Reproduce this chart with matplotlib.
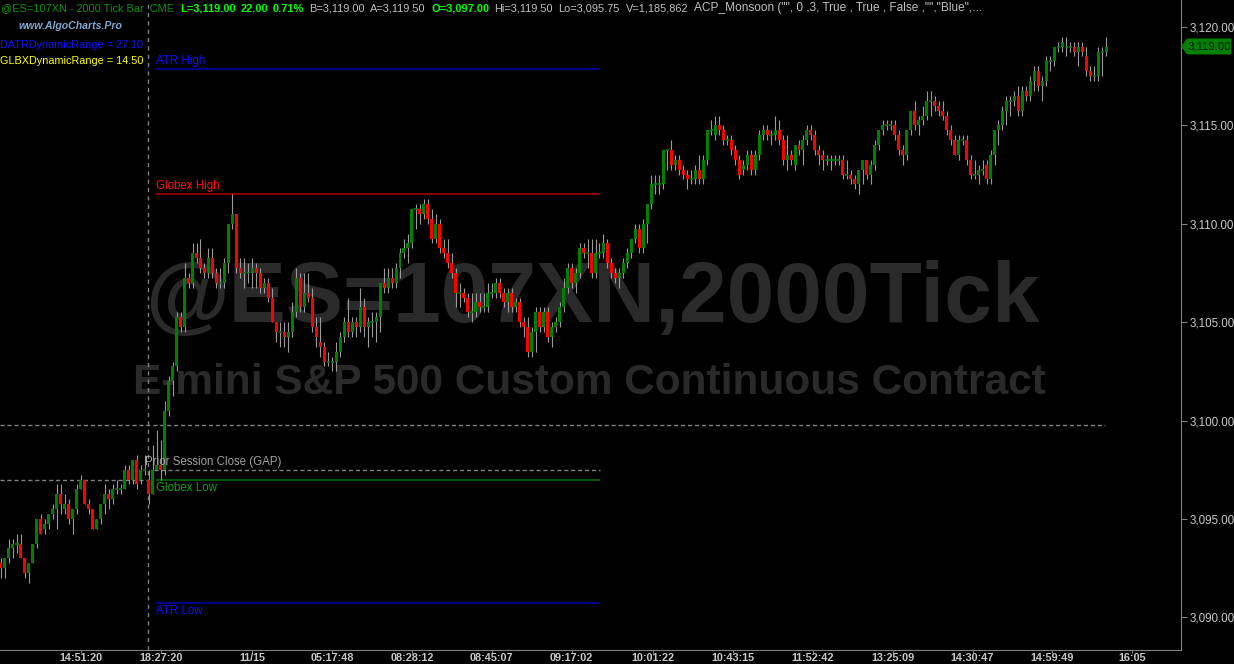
import numpy as np
import matplotlib.pyplot as plt
from matplotlib.patches import Polygon

plt.rcParams['font.family'] = ['Liberation Sans', 'DejaVu Sans']

# 2000 tick bars (O, H, L, C)
opens = [3092.75, 3092.5, 3093.0, 3093.5, 3093.75, 3093.75, 3093.0, 3092.25, 3092.75, 3093.75,
         3095.0, 3094.5, 3094.75, 3095.25, 3095.5, 3096.25, 3095.5, 3095.75, 3095.0, 3095.5,
         3096.5, 3097.0, 3095.75, 3095.5, 3094.5, 3095.0, 3095.75, 3096.25, 3096.0, 3096.5,
         3096.5, 3096.5, 3097.5, 3097.0, 3098.0, 3097.0, 3097.5, 3097.0, 3096.25, 3097.5,
         3097.75, 3097.5, 3100.5, 3102.0, 3102.75, 3105.25, 3104.75, 3107.25, 3107.0, 3108.5,
         3108.25, 3107.75, 3107.5, 3108.25, 3107.5, 3107.0, 3107.0, 3108.0, 3110.0, 3110.5,
         3107.75, 3107.5, 3107.5, 3107.5, 3107.75, 3107.5, 3106.75, 3107.0, 3106.25, 3105.0,
         3104.5, 3104.5, 3104.25, 3104.5, 3105.5, 3107.25, 3105.75, 3106.5, 3106.25, 3104.75,
         3104.0, 3103.75, 3103.0, 3103.0, 3103.0, 3103.5, 3104.25, 3105.0, 3104.5, 3105.0,
         3104.75, 3105.75, 3104.75, 3105.0, 3105.0, 3105.25, 3107.0, 3106.75, 3107.25, 3107.0,
         3107.75, 3108.5, 3108.75, 3109.0, 3110.75, 3110.75, 3110.5, 3111.0, 3110.25, 3109.25,
         3110.0, 3108.75, 3108.5, 3108.0, 3107.5, 3106.5, 3106.5, 3106.25, 3105.5, 3105.5,
         3106.0, 3105.75, 3105.75, 3106.5, 3106.5, 3107.0, 3106.5, 3106.0, 3106.5, 3105.75,
         3106.0, 3105.0, 3104.75, 3103.5, 3104.5, 3105.5, 3104.75, 3105.5, 3104.25, 3104.75,
         3105.0, 3105.75, 3106.75, 3107.75, 3107.0, 3107.5, 3108.75, 3108.5, 3108.5, 3107.5,
         3108.5, 3108.5, 3109.0, 3108.0, 3107.5, 3107.25, 3107.5, 3108.0, 3108.5, 3109.25,
         3109.75, 3108.75, 3110.0, 3111.0, 3112.0, 3112.0, 3112.0, 3113.75, 3113.75, 3113.0,
         3113.25, 3112.75, 3112.5, 3112.25, 3112.25, 3112.75, 3112.25, 3113.25, 3114.75, 3114.5,
         3115.0, 3114.75, 3114.25, 3114.25, 3113.75, 3113.25, 3112.75, 3113.0, 3113.5, 3112.75,
         3113.5, 3114.5, 3114.75, 3114.5, 3114.5, 3114.75, 3114.25, 3113.25, 3113.5, 3113.0,
         3114.0, 3113.75, 3114.25, 3114.75, 3114.5, 3113.75, 3113.5, 3113.25, 3113.25, 3113.25,
         3113.25, 3113.25, 3112.5, 3112.5, 3112.25, 3112.0, 3112.75, 3113.25, 3112.5, 3113.0,
         3114.0, 3114.75, 3115.0, 3115.0, 3115.0, 3114.5, 3113.75, 3113.5, 3114.75, 3115.75,
         3115.0, 3115.25, 3115.5, 3116.25, 3116.25, 3116.0, 3115.75, 3115.5, 3114.75, 3114.25,
         3113.5, 3114.25, 3114.25, 3113.25, 3112.5, 3112.5, 3112.75, 3113.0, 3112.25, 3113.5,
         3114.75, 3115.0, 3115.75, 3116.25, 3116.25, 3116.5, 3115.75, 3116.75, 3116.5, 3117.25,
         3117.75, 3117.0, 3117.25, 3118.25, 3118.25, 3119.0, 3119.0, 3119.0, 3119.0, 3119.0,
         3118.75, 3119.0, 3118.5, 3117.75, 3117.5, 3117.5, 3118.75, 3118.75]
highs = [3093.0, 3093.0, 3094.0, 3094.0, 3094.25, 3094.25, 3093.0, 3092.75, 3093.75, 3095.0,
         3095.25, 3095.0, 3095.25, 3095.75, 3096.75, 3096.75, 3096.25, 3096.0, 3095.5, 3096.75,
         3097.25, 3097.0, 3096.0, 3095.5, 3095.0, 3095.75, 3096.75, 3096.5, 3096.75, 3097.0,
         3096.75, 3097.75, 3097.75, 3098.0, 3098.25, 3097.75, 3098.25, 3097.5, 3098.75, 3099.5,
         3099.0, 3101.0, 3102.25, 3103.0, 3105.5, 3105.5, 3108.0, 3107.5, 3109.0, 3109.0,
         3109.25, 3108.0, 3108.75, 3108.75, 3107.75, 3107.75, 3108.25, 3110.0, 3111.5, 3110.5,
         3108.25, 3108.25, 3108.0, 3108.25, 3108.0, 3107.75, 3107.25, 3107.25, 3106.75, 3105.0,
         3105.0, 3105.0, 3105.0, 3106.0, 3107.75, 3107.5, 3107.5, 3107.5, 3106.75, 3105.25,
         3105.25, 3104.0, 3103.5, 3103.25, 3104.0, 3104.5, 3105.25, 3106.25, 3105.25, 3105.25,
         3106.75, 3106.25, 3105.25, 3105.5, 3105.5, 3107.0, 3107.75, 3107.75, 3107.75, 3108.0,
         3108.75, 3109.25, 3109.5, 3110.75, 3111.0, 3111.0, 3111.25, 3111.25, 3110.75, 3110.5,
         3110.25, 3109.25, 3109.25, 3108.5, 3107.75, 3107.0, 3106.75, 3106.5, 3106.5, 3106.5,
         3106.5, 3106.5, 3107.0, 3107.0, 3107.25, 3107.25, 3106.75, 3106.75, 3106.75, 3106.25,
         3106.25, 3105.25, 3105.25, 3104.75, 3105.75, 3105.75, 3105.75, 3105.75, 3105.0, 3105.25,
         3106.0, 3107.25, 3108.0, 3108.0, 3107.75, 3109.0, 3109.0, 3109.25, 3109.25, 3109.25,
         3109.0, 3109.5, 3109.25, 3108.25, 3107.75, 3107.75, 3108.25, 3108.75, 3109.25, 3110.0,
         3110.0, 3110.25, 3111.0, 3112.5, 3112.5, 3112.5, 3113.75, 3113.75, 3114.25, 3113.5,
         3113.5, 3113.0, 3112.75, 3112.75, 3113.0, 3113.5, 3113.5, 3114.75, 3115.25, 3115.5,
         3115.5, 3115.0, 3114.5, 3114.5, 3114.0, 3113.5, 3113.25, 3113.75, 3113.75, 3113.75,
         3114.75, 3115.0, 3115.0, 3114.75, 3115.5, 3115.25, 3114.5, 3114.5, 3113.75, 3114.0,
         3114.25, 3114.5, 3115.0, 3115.0, 3114.75, 3114.0, 3113.75, 3113.5, 3113.5, 3113.5,
         3113.5, 3113.5, 3113.25, 3112.75, 3112.5, 3112.75, 3113.25, 3113.25, 3113.25, 3114.25,
         3114.75, 3115.25, 3115.25, 3115.25, 3115.25, 3114.75, 3114.0, 3114.75, 3115.75, 3116.25,
         3115.5, 3116.0, 3116.75, 3116.75, 3116.5, 3116.25, 3116.25, 3115.75, 3115.0, 3114.5,
         3114.5, 3114.5, 3114.5, 3113.5, 3113.25, 3113.0, 3113.25, 3113.25, 3113.75, 3114.75,
         3115.25, 3116.0, 3116.5, 3116.5, 3116.75, 3117.0, 3117.0, 3117.0, 3117.5, 3118.0,
         3118.0, 3117.5, 3118.5, 3118.5, 3119.0, 3119.25, 3119.5, 3119.5, 3119.25, 3119.25,
         3119.25, 3119.25, 3119.0, 3118.0, 3118.0, 3119.0, 3119.0, 3119.5]
lows = [3092.0, 3092.0, 3092.75, 3093.0, 3093.25, 3093.0, 3092.0, 3091.75, 3092.75, 3093.5,
        3094.25, 3094.25, 3094.5, 3095.0, 3094.5, 3095.25, 3095.25, 3094.75, 3094.25, 3095.25,
        3096.5, 3095.75, 3095.25, 3094.5, 3094.5, 3094.75, 3095.25, 3095.5, 3095.75, 3096.25,
        3096.25, 3096.5, 3096.75, 3096.75, 3096.5, 3096.75, 3097.25, 3095.75, 3096.25, 3097.5,
        3097.0, 3097.25, 3100.25, 3101.25, 3102.5, 3104.5, 3104.5, 3106.75, 3106.75, 3108.0,
        3107.5, 3107.25, 3107.25, 3107.25, 3106.75, 3106.75, 3106.75, 3107.5, 3109.75, 3107.5,
        3107.25, 3106.75, 3107.0, 3106.75, 3106.75, 3106.5, 3106.5, 3106.0, 3105.0, 3104.0,
        3103.75, 3103.75, 3103.5, 3104.25, 3105.25, 3105.5, 3105.5, 3106.0, 3104.5, 3103.75,
        3103.25, 3102.75, 3102.75, 3102.5, 3102.5, 3103.25, 3104.0, 3104.25, 3104.25, 3104.25,
        3104.5, 3104.25, 3103.75, 3104.25, 3104.0, 3104.5, 3106.5, 3106.5, 3106.75, 3106.75,
        3107.25, 3108.25, 3108.0, 3108.75, 3109.75, 3110.0, 3110.25, 3110.0, 3109.0, 3109.0,
        3108.5, 3108.25, 3107.75, 3107.25, 3105.75, 3105.75, 3106.0, 3105.25, 3105.0, 3105.25,
        3105.5, 3105.5, 3105.5, 3106.25, 3106.25, 3106.25, 3105.75, 3105.5, 3105.5, 3105.5,
        3104.75, 3104.25, 3103.25, 3103.25, 3103.5, 3104.5, 3104.5, 3104.0, 3103.75, 3104.5,
        3104.75, 3105.5, 3106.5, 3106.75, 3106.5, 3107.25, 3108.25, 3107.75, 3107.25, 3107.25,
        3108.25, 3108.25, 3107.75, 3107.25, 3107.0, 3106.75, 3107.25, 3107.75, 3108.25, 3109.0,
        3108.5, 3108.5, 3109.0, 3110.75, 3111.5, 3111.5, 3111.75, 3112.75, 3112.75, 3112.75,
        3112.5, 3112.25, 3111.75, 3112.0, 3112.0, 3112.0, 3112.0, 3113.0, 3114.5, 3114.25,
        3114.5, 3114.0, 3114.0, 3113.5, 3113.0, 3112.25, 3112.5, 3112.75, 3112.5, 3112.5,
        3113.25, 3114.25, 3114.25, 3114.0, 3114.25, 3114.0, 3113.0, 3112.75, 3113.0, 3112.75,
        3113.5, 3113.0, 3114.0, 3114.25, 3113.5, 3113.0, 3112.75, 3113.0, 3112.75, 3113.0,
        3113.0, 3112.25, 3112.25, 3112.0, 3111.75, 3111.5, 3112.0, 3112.25, 3112.0, 3112.75,
        3113.75, 3114.5, 3114.75, 3114.75, 3114.25, 3113.5, 3113.0, 3113.25, 3114.5, 3114.75,
        3114.5, 3115.0, 3115.25, 3115.5, 3115.75, 3115.5, 3115.25, 3114.5, 3114.0, 3113.5,
        3113.25, 3114.0, 3113.0, 3112.25, 3112.25, 3112.0, 3112.5, 3112.0, 3112.0, 3113.0,
        3114.0, 3114.75, 3115.0, 3115.5, 3116.0, 3115.5, 3115.5, 3116.25, 3116.25, 3116.75,
        3116.75, 3116.25, 3117.0, 3117.75, 3118.0, 3118.75, 3118.75, 3118.5, 3118.75, 3118.5,
        3118.0, 3118.5, 3117.5, 3117.25, 3117.25, 3117.25, 3117.5, 3118.5]
closes = [3092.5, 3093.0, 3093.5, 3093.75, 3093.75, 3093.0, 3092.25, 3092.75, 3093.75, 3095.0,
          3094.25, 3094.75, 3095.25, 3095.5, 3096.25, 3095.75, 3095.75, 3095.0, 3095.5, 3096.5,
          3097.0, 3095.75, 3095.5, 3094.5, 3095.0, 3095.75, 3096.25, 3096.0, 3096.5, 3096.5,
          3096.5, 3097.5, 3097.0, 3098.0, 3096.75, 3097.5, 3097.5, 3096.25, 3097.5, 3097.75,
          3097.5, 3100.5, 3102.0, 3102.75, 3105.25, 3104.75, 3107.25, 3107.0, 3108.5, 3108.25,
          3107.75, 3107.5, 3108.25, 3107.5, 3107.0, 3107.0, 3108.0, 3110.0, 3110.5, 3107.75,
          3107.5, 3107.5, 3107.5, 3107.75, 3107.5, 3106.75, 3107.0, 3106.25, 3105.0, 3104.5,
          3104.5, 3104.25, 3104.5, 3105.5, 3107.25, 3105.75, 3106.5, 3106.25, 3104.75, 3104.25,
          3103.75, 3103.0, 3103.0, 3103.0, 3103.5, 3104.25, 3105.0, 3104.5, 3105.0, 3104.75,
          3105.75, 3104.75, 3105.0, 3105.0, 3105.25, 3107.0, 3106.75, 3107.25, 3107.0, 3107.75,
          3108.5, 3108.75, 3109.0, 3110.75, 3110.75, 3110.5, 3111.0, 3110.25, 3109.25, 3110.0,
          3108.75, 3108.5, 3108.0, 3107.5, 3106.5, 3106.5, 3106.25, 3105.5, 3105.5, 3106.0,
          3105.75, 3105.75, 3106.5, 3106.5, 3107.0, 3106.5, 3106.0, 3106.5, 3105.75, 3106.0,
          3105.0, 3104.75, 3103.5, 3104.5, 3105.5, 3104.75, 3105.5, 3104.25, 3104.75, 3105.0,
          3105.75, 3106.75, 3107.75, 3107.0, 3107.5, 3108.75, 3108.5, 3108.5, 3107.5, 3108.5,
          3108.5, 3109.0, 3108.0, 3107.5, 3107.25, 3107.5, 3108.0, 3108.5, 3109.25, 3109.75,
          3108.75, 3110.0, 3111.0, 3112.0, 3112.0, 3112.0, 3113.75, 3113.75, 3113.0, 3113.25,
          3112.75, 3112.5, 3112.25, 3112.25, 3112.75, 3112.25, 3113.25, 3114.75, 3114.75, 3115.0,
          3114.75, 3114.25, 3114.25, 3113.75, 3113.25, 3112.5, 3113.0, 3113.5, 3112.75, 3113.5,
          3114.5, 3114.75, 3114.5, 3114.5, 3114.75, 3114.25, 3113.25, 3113.5, 3113.25, 3114.0,
          3113.75, 3114.25, 3114.75, 3114.5, 3113.75, 3113.5, 3113.25, 3113.25, 3113.25, 3113.25,
          3113.25, 3112.5, 3112.5, 3112.25, 3112.0, 3112.75, 3113.25, 3112.5, 3113.0, 3114.0,
          3114.75, 3115.0, 3115.0, 3115.0, 3114.5, 3113.75, 3113.5, 3114.75, 3115.75, 3115.0,
          3115.25, 3115.5, 3116.25, 3116.25, 3116.0, 3115.75, 3115.5, 3114.75, 3114.25, 3113.5,
          3114.25, 3114.25, 3113.25, 3112.5, 3112.5, 3112.75, 3112.75, 3112.25, 3113.5, 3114.75,
          3115.0, 3115.75, 3116.25, 3116.25, 3116.5, 3115.75, 3116.75, 3116.5, 3117.25, 3117.75,
          3117.0, 3117.25, 3118.25, 3118.25, 3119.0, 3119.0, 3119.25, 3119.0, 3119.0, 3118.75,
          3119.0, 3118.75, 3117.75, 3117.5, 3117.5, 3118.75, 3118.75, 3119.0]

time_ticks = [20, 40, 63, 83, 103, 123, 143, 163.5, 183.5, 203.5, 223.5, 243.5, 263.5, 283.5]
time_labels = ["14:51:20", "18:27:20", "11/15", "05:17:48", "08:28:12", "08:45:07", "09:17:02",
               "10:01:22", "10:43:15", "11:52:42", "13:25:09", "14:30:47", "14:59:49", "16:05"]
price_ticks = [3090, 3095, 3100, 3105, 3110, 3115, 3120]

atr_high = 3117.85
atr_low = 3090.75
globex_high = 3111.5
globex_low = 3097.0
prior_close = 3097.5
prev_level = 3099.75
last_price = 3119.0
session_start = 36.85

W, H = 1234, 664
fig = plt.figure(figsize=(W / 100, H / 100), dpi=100, facecolor="black")
ax = fig.add_axes([0, 14 / H, 1181 / W, 650 / H])
ax.set_facecolor("black")

o = np.array(opens)
hi = np.array(highs)
lo = np.array(lows)
c = np.array(closes)
x = np.arange(len(c))

ax.vlines(x, lo, hi, color="#9a9a9a", lw=0.8, zorder=3)
up = c > o
dn = c < o
fl = c == o
ax.bar(x[up], (c - o)[up], bottom=o[up], width=0.75, color="#008000", lw=0, zorder=4)
ax.bar(x[dn], (o - c)[dn], bottom=c[dn], width=0.75, color="#ff0000", lw=0, zorder=4)
ax.hlines(c[fl], x[fl] - 0.4, x[fl] + 0.4, color="#008000", lw=1.2, zorder=4)

# levels
lx0, lx1 = 38.85, 150.1
ax.hlines(atr_high, lx0, lx1, color="#0000b0", lw=1.1, zorder=2)
ax.hlines(globex_high, lx0, lx1, color="#b00000", lw=1.1, zorder=2)
ax.hlines(globex_low, lx0, lx1, color="#006000", lw=1.3, zorder=2)
ax.hlines(atr_low, lx0, lx1, color="#0000b0", lw=1.1, zorder=2)
ax.hlines(prior_close, lx0 - 0.5, lx1, color="#808080", lw=1, ls=(0, (3, 2)), zorder=2)
ax.hlines(prev_level, -0.25, 276.7, color="#808080", lw=1, ls=(0, (3, 2)), zorder=2)
ax.hlines(globex_low, -0.25, session_start, color="#808080", lw=1, ls=(0, (3, 2)), zorder=2)
ax.axvline(session_start, color="#808080", lw=1, ls=(0, (3, 3)), zorder=2)

fs = 8.3
ax.text(lx0, atr_high + 0.12, "ATR High", color="#1010ff", fontsize=fs, va="bottom", zorder=5)
ax.text(lx0, globex_high + 0.12, "Globex High", color="#ff1010", fontsize=fs, va="bottom", zorder=5)
ax.text(lx0, globex_low - 0.12, "Globex Low", color="#10a010", fontsize=fs, va="top", zorder=5)
ax.text(lx0, atr_low - 0.12, "ATR Low", color="#1010ff", fontsize=fs, va="top", zorder=5)
ax.text(36.1, prior_close + 0.1, "Prior Session Close (GAP)", color="#a0a0a0", fontsize=fs,
        va="bottom", zorder=5)

ax.set_xlim(-0.25, 295.74)
ax.set_ylim(3088.34, 3121.37)

for s in ["top", "left"]:
    ax.spines[s].set_visible(False)
ax.spines["right"].set_color("#808080")
ax.spines["bottom"].set_color("#808080")
ax.yaxis.tick_right()
ax.set_yticks(price_ticks)
ax.set_yticklabels([f"{v:,.2f}" for v in price_ticks])
ax.set_xticks(time_ticks)
ax.set_xticklabels(time_labels)
ax.tick_params(axis="y", colors="#808080", labelcolor="#c8c8c8", labelsize=8.4, length=4, pad=2)
ax.tick_params(axis="x", colors="#808080", labelcolor="#c8c8c8", labelsize=7.8, length=2, pad=0.5)
for t in ax.get_xticklabels():
    t.set_fontweight("bold")

# watermark
fig.canvas.draw()
r = fig.canvas.get_renderer()
for txt, cx, cy, wpx, fsz in [("@ES=107XN,2000Tick", 592, 300, 895, 60),
                              ("E-mini S&P 500 Custom Continuous Contract", 589, 383, 912, 28)]:
    t = ax.text(cx / W, 1 - cy / H, txt, transform=fig.transFigure, ha="center", va="center",
                fontsize=fsz, fontweight="bold", color="#2a2a2a", zorder=1)
    bb = t.get_window_extent(r)
    t.set_fontsize(fsz * wpx / bb.width)

# last price tag
ty = 1 - 46.5 / H
tag = Polygon([[1181 / W, ty], [1187 / W, ty + 8 / H], [1231 / W, ty + 8 / H],
               [1231 / W, ty - 8 / H], [1187 / W, ty - 8 / H]], closed=True,
              transform=fig.transFigure, facecolor="#008000", edgecolor="none")
fig.patches.append(tag)
fig.text(1209 / W, ty, f"{last_price:,.2f}", color="#101010", fontsize=8.2, ha="center", va="center")

# header
hy = 1 - 8.5 / H
header = [(1, "@ES=107XN - 2000 Tick Bar  CME", "#109010", "normal", 7.9),
          (180, "L=3,119.00", "#00ff00", "bold", 7.9),
          (241, "22.00", "#00ff00", "bold", 7.9),
          (273, "0.71%", "#00ff00", "bold", 7.9),
          (309, "B=3,119.00", "#c0c0c0", "normal", 7.9),
          (370, "A=3,119.50", "#c0c0c0", "normal", 7.9),
          (431, "O=3,097.00", "#00ff00", "bold", 7.9),
          (494, "Hi=3,119.50", "#c0c0c0", "normal", 7.9),
          (558, "Lo=3,095.75", "#c0c0c0", "normal", 7.9),
          (626, "V=1,185,862", "#c0c0c0", "normal", 7.9),
          (694, 'ACP_Monsoon ("", 0 ,3, True , True , False ,"","Blue",...', "#c0c0c0", "normal", 8.6)]
for px, txt, col, wt, sz in header:
    fig.text(px / W, hy, txt, color=col, fontsize=sz, fontweight=wt, ha="left", va="center")

fig.text(70 / W, 1 - 26 / H, "www.AlgoCharts.Pro", color="#7fa8d0", fontsize=7.6,
         fontweight="bold", style="italic", ha="center", va="center")
fig.text(0, 1 - 45 / H, "DATRDynamicRange = 27.10", color="#1010ff", fontsize=7.8, va="center")
fig.text(0, 1 - 61 / H, "GLBXDynamicRange = 14.50", color="#ffff00", fontsize=7.8, va="center")

plt.savefig("out.png", dpi=100, facecolor="black")
